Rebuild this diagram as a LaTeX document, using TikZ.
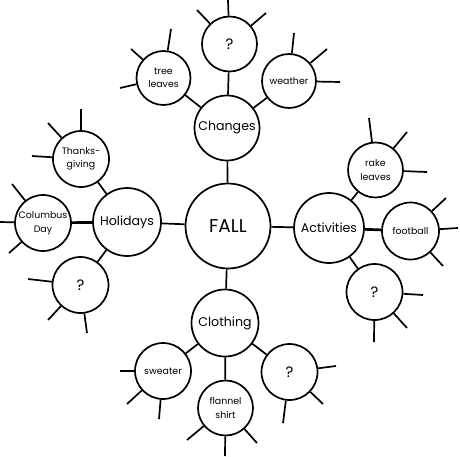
\documentclass[tikz,border=0pt]{standalone}
\usepackage{fontspec}
\setmainfont{Poppins}
\begin{document}
\begin{tikzpicture}[x=1pt,y=1pt,
  bubble/.style={circle,draw,line width=1.7pt,inner sep=0pt,align=center,
    font=\fontsize{9.4}{13.5}\selectfont},
  hub/.style={bubble,font=\fontsize{12.6}{15}\selectfont},
  qmark/.style={bubble,font=\fontsize{15}{18}\selectfont},
  link/.style={line width=1.7pt},
  heavylink/.style={line width=2.7pt},
  spoke/.style={line width=1.7pt}]
\useasboundingbox (0,0) rectangle (460,456);
% centre
\node[bubble,minimum size=85,font=\fontsize{18.5}{22}\selectfont] (fall) at (228,230) {FALL};
% hubs
\node[hub,minimum size=65] (changes) at (227,328) {Changes};
\node[hub,minimum size=68] (holidays) at (127,234) {Holidays};
\node[hub,minimum size=70] (activities) at (329,228) {Activities};
\node[hub,minimum size=67] (clothing) at (225,133) {Clothing};
% leaves
\node[qmark,minimum size=55] (q1) at (229.5,412) {?};
\node[bubble,minimum size=54] (tree) at (163.5,378) {tree\\leaves};
\node[bubble,minimum size=54] (weather) at (289,375) {weather};
\node[bubble,minimum size=56] (thanks) at (81,297) {Thanks-\\giving};
\node[bubble,minimum size=56] (columbus) at (43,233) {Columbus\\Day};
\node[qmark,minimum size=56] (q2) at (80.5,171) {?};
\node[bubble,minimum size=55] (rake) at (375.5,286) {rake\\leaves};
\node[bubble,minimum size=57] (football) at (410.5,225) {football};
\node[qmark,minimum size=56] (q3) at (374.5,164) {?};
\node[bubble,minimum size=56] (sweater) at (163,85) {sweater};
\node[bubble,minimum size=55] (flannel) at (225.5,48) {flannel\\shirt};
\node[qmark,minimum size=56] (q4) at (289.5,84) {?};
% connectors
\draw[link] (fall) -- (changes);
\draw[link] (fall) -- (holidays);
\draw[link] (fall) -- (activities);
\draw[link] (fall) -- (clothing);
\draw[link] (changes) -- (q1);
\draw[link] (changes) -- (tree);
\draw[link] (changes) -- (weather);
\draw[link] (holidays) -- (thanks);
\draw[heavylink] (holidays) -- (columbus);
\draw[link] (holidays) -- (q2);
\draw[link] (activities) -- (rake);
\draw[heavylink] (activities) -- (football);
\draw[link] (activities) -- (q3);
\draw[link] (clothing) -- (sweater);
\draw[link] (clothing) -- (flannel);
\draw[link] (clothing) -- (q4);
% spoke ends
\coordinate (a1) at (228,456);
\coordinate (a2) at (197,446);
\coordinate (a3) at (266,443);
\coordinate (b1) at (171,427);
\coordinate (b2) at (131,407);
\coordinate (b3) at (120,368);
\coordinate (c1) at (294,423);
\coordinate (c2) at (327,407);
\coordinate (c3) at (340,374);
\coordinate (d1) at (81,347);
\coordinate (d2) at (48,333);
\coordinate (d3) at (32,300);
\coordinate (e1) at (12,272);
\coordinate (e2) at (0,234);
\coordinate (e3) at (9,203);
\coordinate (f1) at (28,177);
\coordinate (f2) at (48,136);
\coordinate (f3) at (87,123);
\coordinate (g1) at (369,338);
\coordinate (g2) at (407,324);
\coordinate (g3) at (427,284);
\coordinate (h1) at (446,258);
\coordinate (h2) at (458,228);
\coordinate (h3) at (443,190);
\coordinate (i1) at (423,161);
\coordinate (i2) at (407,128);
\coordinate (i3) at (374,114);
\coordinate (j1) at (120,85);
\coordinate (j2) at (127,52);
\coordinate (j3) at (159,37);
\coordinate (k1) at (187,16);
\coordinate (k2) at (225,0);
\coordinate (k3) at (257,13);
\coordinate (l1) at (336,90);
\coordinate (l2) at (323,52);
\coordinate (l3) at (283,33);
% spokes
\foreach \n/\p in {q1/a,tree/b,weather/c,thanks/d,columbus/e,q2/f,rake/g,football/h,q3/i,sweater/j,flannel/k,q4/l}{
  \foreach \k in {1,2,3}{ \draw[spoke] (\n) -- (\p\k); }
}
\end{tikzpicture}
\end{document}
